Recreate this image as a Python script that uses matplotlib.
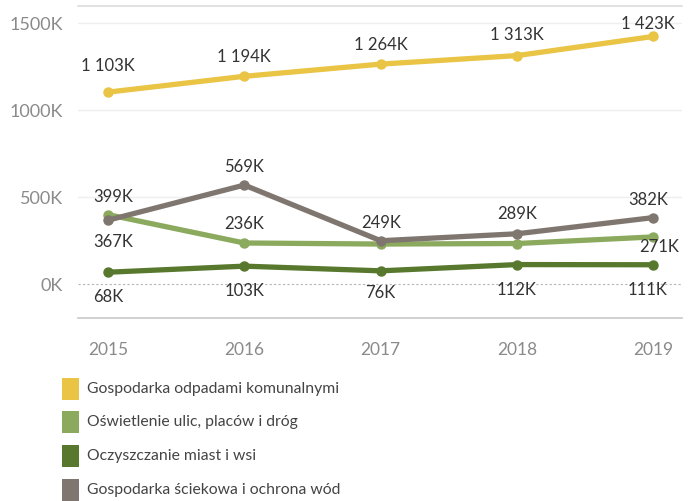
import matplotlib
matplotlib.use("Agg")
import matplotlib.pyplot as plt
from matplotlib.patches import Rectangle
from matplotlib.ticker import FuncFormatter

plt.rcParams["font.family"] = ["Lato", "DejaVu Sans"]

years = [2015, 2016, 2017, 2018, 2019]
series_names = [
    "Gospodarka odpadami komunalnymi",
    "Oświetlenie ulic, placów i dróg",
    "Oczyszczanie miast i wsi",
    "Gospodarka ściekowa i ochrona wód",
]
odpady = [1103, 1194, 1264, 1313, 1423]
oswietlenie = [399, 236, 230, 233, 271]
oczyszczanie = [68, 103, 76, 112, 111]
sciekowa = [367, 569, 249, 289, 382]

# which points carry a value label
shown_oswietlenie = [True, True, False, False, True]

colors = ["#E9C445", "#8BAA5E", "#58782E", "#807670"]

# label offsets in points (dx, dy) per series / year
off_odpady = [(0, 19), (0, 14), (0, 14), (0, 15), (-4, 9)]
off_osw = [(4, 13), (0, 14), None, None, (4, -7)]
off_ocz = [(0, -18), (0, -18), (0, -16), (0, -18), (-4, -18)]
off_sciek = [(4, -16), (0, 13), (0, 13), (0, 14), (-4, 13)]

fig = plt.figure(figsize=(6.99, 5.01), dpi=100)
ax = fig.add_axes([78 / 699, 1 - 318 / 501, (682 - 78) / 699, (318 - 6) / 501])

data = [odpady, oswietlenie, oczyszczanie, sciekowa]
draw_order = [0, 3, 1, 2]
for i in draw_order:
    ax.plot(years, data[i], color=colors[i], lw=3.8, marker="o", ms=6.5,
            solid_capstyle="round", zorder=3 + i)

txt = dict(ha="center", va="center", fontsize=12, color="#333333", zorder=10)


def fmt_k(v):
    return f"{v:,}".replace(",", " ") + "K"


for vals, offs, flags in [
    (odpady, off_odpady, [True] * 5),
    (oswietlenie, off_osw, shown_oswietlenie),
    (oczyszczanie, off_ocz, [True] * 5),
    (sciekowa, off_sciek, [True] * 5),
]:
    for x, v, o, f in zip(years, vals, offs, flags):
        if not f:
            continue
        ax.annotate(fmt_k(v), (x, v), xytext=o, textcoords="offset points", **txt)

ax.set_xlim(2014.78, 2019.21)
ax.set_ylim(-195, 1598)
ax.set_yticks([0, 500, 1000, 1500])
ax.yaxis.set_major_formatter(FuncFormatter(lambda v, p: f"{int(v)}K"))
ax.set_xticks(years)
ax.tick_params(axis="both", length=0, labelcolor="#8a8a8a")
ax.tick_params(axis="y", pad=11, labelsize=13)
ax.tick_params(axis="x", pad=17, labelsize=12.5)

for y in [500, 1000, 1500]:
    ax.axhline(y, color="#efefef", lw=1, zorder=1)
ax.axhline(0, color="#b5b5b5", lw=0.8, ls=(0, (2, 2)), zorder=1)

for side in ["left", "right"]:
    ax.spines[side].set_visible(False)
ax.spines["top"].set_color("#dcdcdc")
ax.spines["top"].set_linewidth(1.2)
ax.spines["bottom"].set_color("#c8c8c8")
ax.spines["bottom"].set_linewidth(1.2)

# legend drawn in figure pixel space
row_y = [389, 422, 456, 490]
for name, c, ry in zip(series_names, colors, row_y):
    fig.add_artist(Rectangle((62 / 699, 1 - (ry + 11) / 501), 17 / 699, 22 / 501,
                             transform=fig.transFigure, color=c, lw=0))
    fig.text(87 / 699, 1 - ry / 501, name, ha="left", va="center",
             fontsize=11.3, color="#444444")

fig.savefig("out.png", dpi=100)
